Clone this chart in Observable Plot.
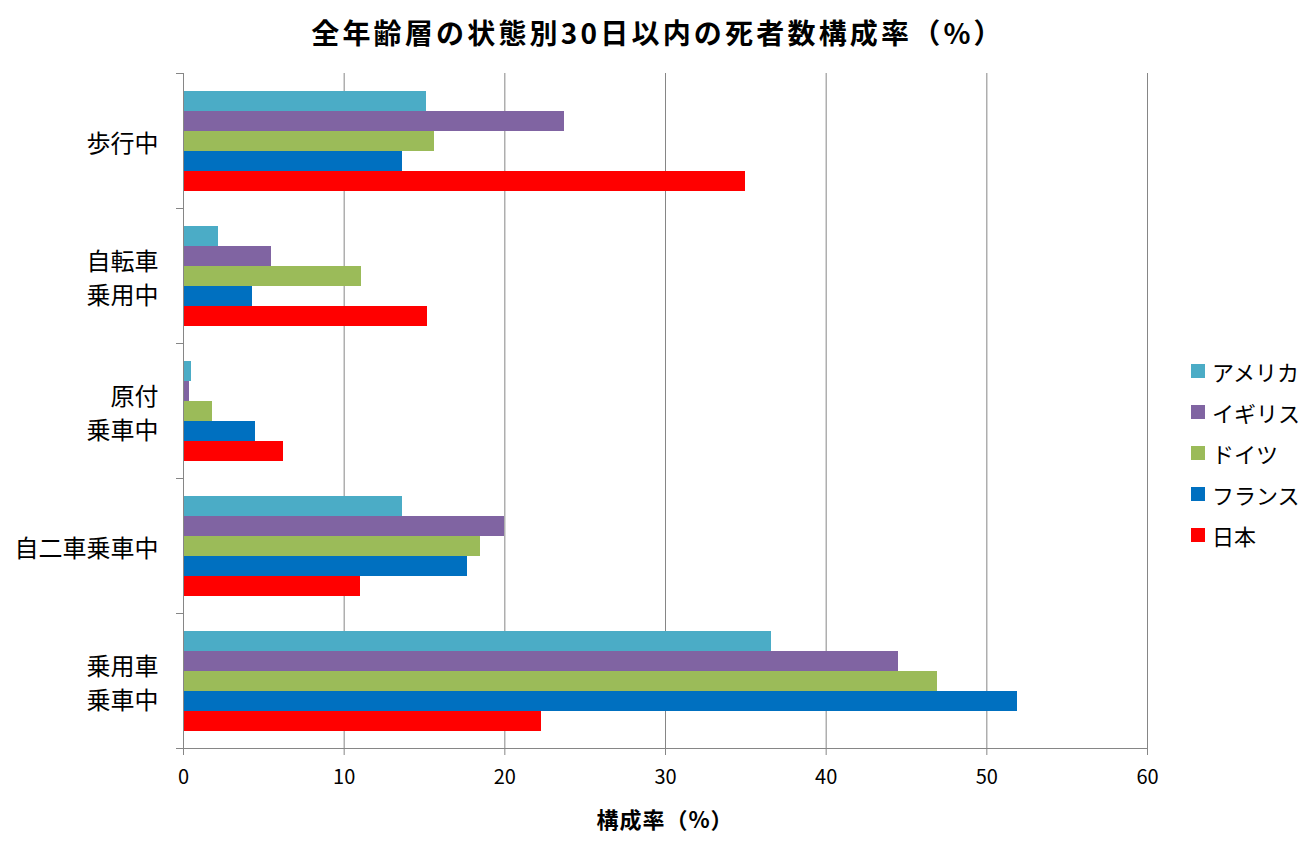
<!DOCTYPE html>
<html lang="ja">
<head>
<meta charset="utf-8">
<script src="https://cdn.jsdelivr.net/npm/d3@7"></script>
<script src="https://cdn.jsdelivr.net/npm/@observablehq/plot@0.6"></script>
<style>
  html, body { margin: 0; padding: 0; background: #fff; }
  #wrap { position: relative; width: 1316px; height: 854px; overflow: hidden; font-family: "Noto Sans CJK JP", "Noto Sans", sans-serif; color: #000; }
  #title { height: 60px; line-height: 64px; text-align: center; font-size: 28px; font-weight: bold; letter-spacing: 3.2px; }
  #xlabel { position: absolute; left: 183px; width: 964px; top: 802px; text-align: center; font-size: 22px; font-weight: bold; line-height: 32px; letter-spacing: 1px; }
  #legend { position: absolute; left: 1191px; top: 350px; font-size: 22px; }
  .item { display: flex; align-items: center; height: 41px; }
  .sw { width: 14px; height: 14px; margin-right: 7px; flex: none; }
</style>
</head>
<body>
<div id="wrap">
  <div id="title">全年齢層の状態別30日以内の死者数構成率（%）</div>
  <div id="chart"></div>
  <div id="xlabel">構成率（%）</div>
  <div id="legend"></div>
</div>
<script>
const categories = ["歩行中", "自転車\n乗用中", "原付\n乗車中", "自二車乗車中", "乗用車\n乗車中"];
const countries = ["アメリカ", "イギリス", "ドイツ", "フランス", "日本"];
const america = [15.1, 2.2, 0.5, 13.6, 36.6];
const uk      = [23.7, 5.5, 0.4, 20.0, 44.5];
const germany = [15.6, 11.1, 1.8, 18.5, 46.9];
const france  = [13.6, 4.3, 4.5, 17.7, 51.9];
const japan   = [35.0, 15.2, 6.2, 11.0, 22.3];
const colors = ["#4BACC6", "#8064A2", "#9BBB59", "#0070C0", "#FF0000"];
const xTicks = [0, 10, 20, 30, 40, 50, 60];

const series = [america, uk, germany, france, japan];
const rows = categories.flatMap((c, i) =>
  countries.map((s, j) => ({category: c, country: s, value: series[j][i]})));

const gray = "#868686";

const plot = Plot.plot({
  width: 1316,
  height: 794,
  marginTop: 13,
  marginBottom: 106,
  marginLeft: 183,
  marginRight: 169,
  style: {fontFamily: "'Noto Sans CJK JP', 'Noto Sans', sans-serif", fontSize: "20px", color: "#000", background: "transparent"},
  x: {domain: [0, 60], ticks: xTicks, label: null},
  y: {domain: countries, paddingInner: 0, paddingOuter: 0.75, axis: null},
  fy: {domain: categories, padding: 0, label: null},
  color: {domain: countries, range: colors},
  marks: [
    Plot.gridX(xTicks.slice(1), {stroke: gray, strokeOpacity: 1, strokeWidth: 1}),
    Plot.barX(rows, {fy: "category", y: "country", x: "value", fill: "country", shapeRendering: "crispEdges"}),
    Plot.ruleX([0], {stroke: gray, strokeWidth: 1}),
    Plot.axisX({ticks: xTicks, tickSize: 7, tickPadding: 14, stroke: gray, fontSize: 20, label: null}),
    Plot.axisFy({anchor: "left", tickSize: 0, tickPadding: 25, fontSize: 24, lineHeight: 1.4, label: null})
  ]
});

document.getElementById("chart").appendChild(plot);

// category boundary ticks and bottom axis line, positioned from the plot's own scales
const sx = plot.scale("x");
const sfy = plot.scale("fy");
const x0 = sx.apply(0), x60 = sx.apply(60);
const bounds = categories.map(c => sfy.apply(c));
const bottom = sfy.apply(categories[categories.length - 1]) + sfy.bandwidth;
const svg = d3.select(plot);
const g = svg.append("g").attr("stroke", gray).attr("stroke-width", 1).attr("shape-rendering", "crispEdges");
bounds.forEach(b => g.append("line").attr("x1", x0 - 7).attr("x2", x0).attr("y1", b).attr("y2", b));
g.append("line").attr("x1", x0 - 7).attr("x2", x60).attr("y1", bottom).attr("y2", bottom);

// legend
const legend = d3.select("#legend");
countries.forEach((c, i) => {
  const it = legend.append("div").attr("class", "item");
  it.append("div").attr("class", "sw").style("background", colors[i]);
  it.append("span").text(c);
});
</script>
</body>
</html>
